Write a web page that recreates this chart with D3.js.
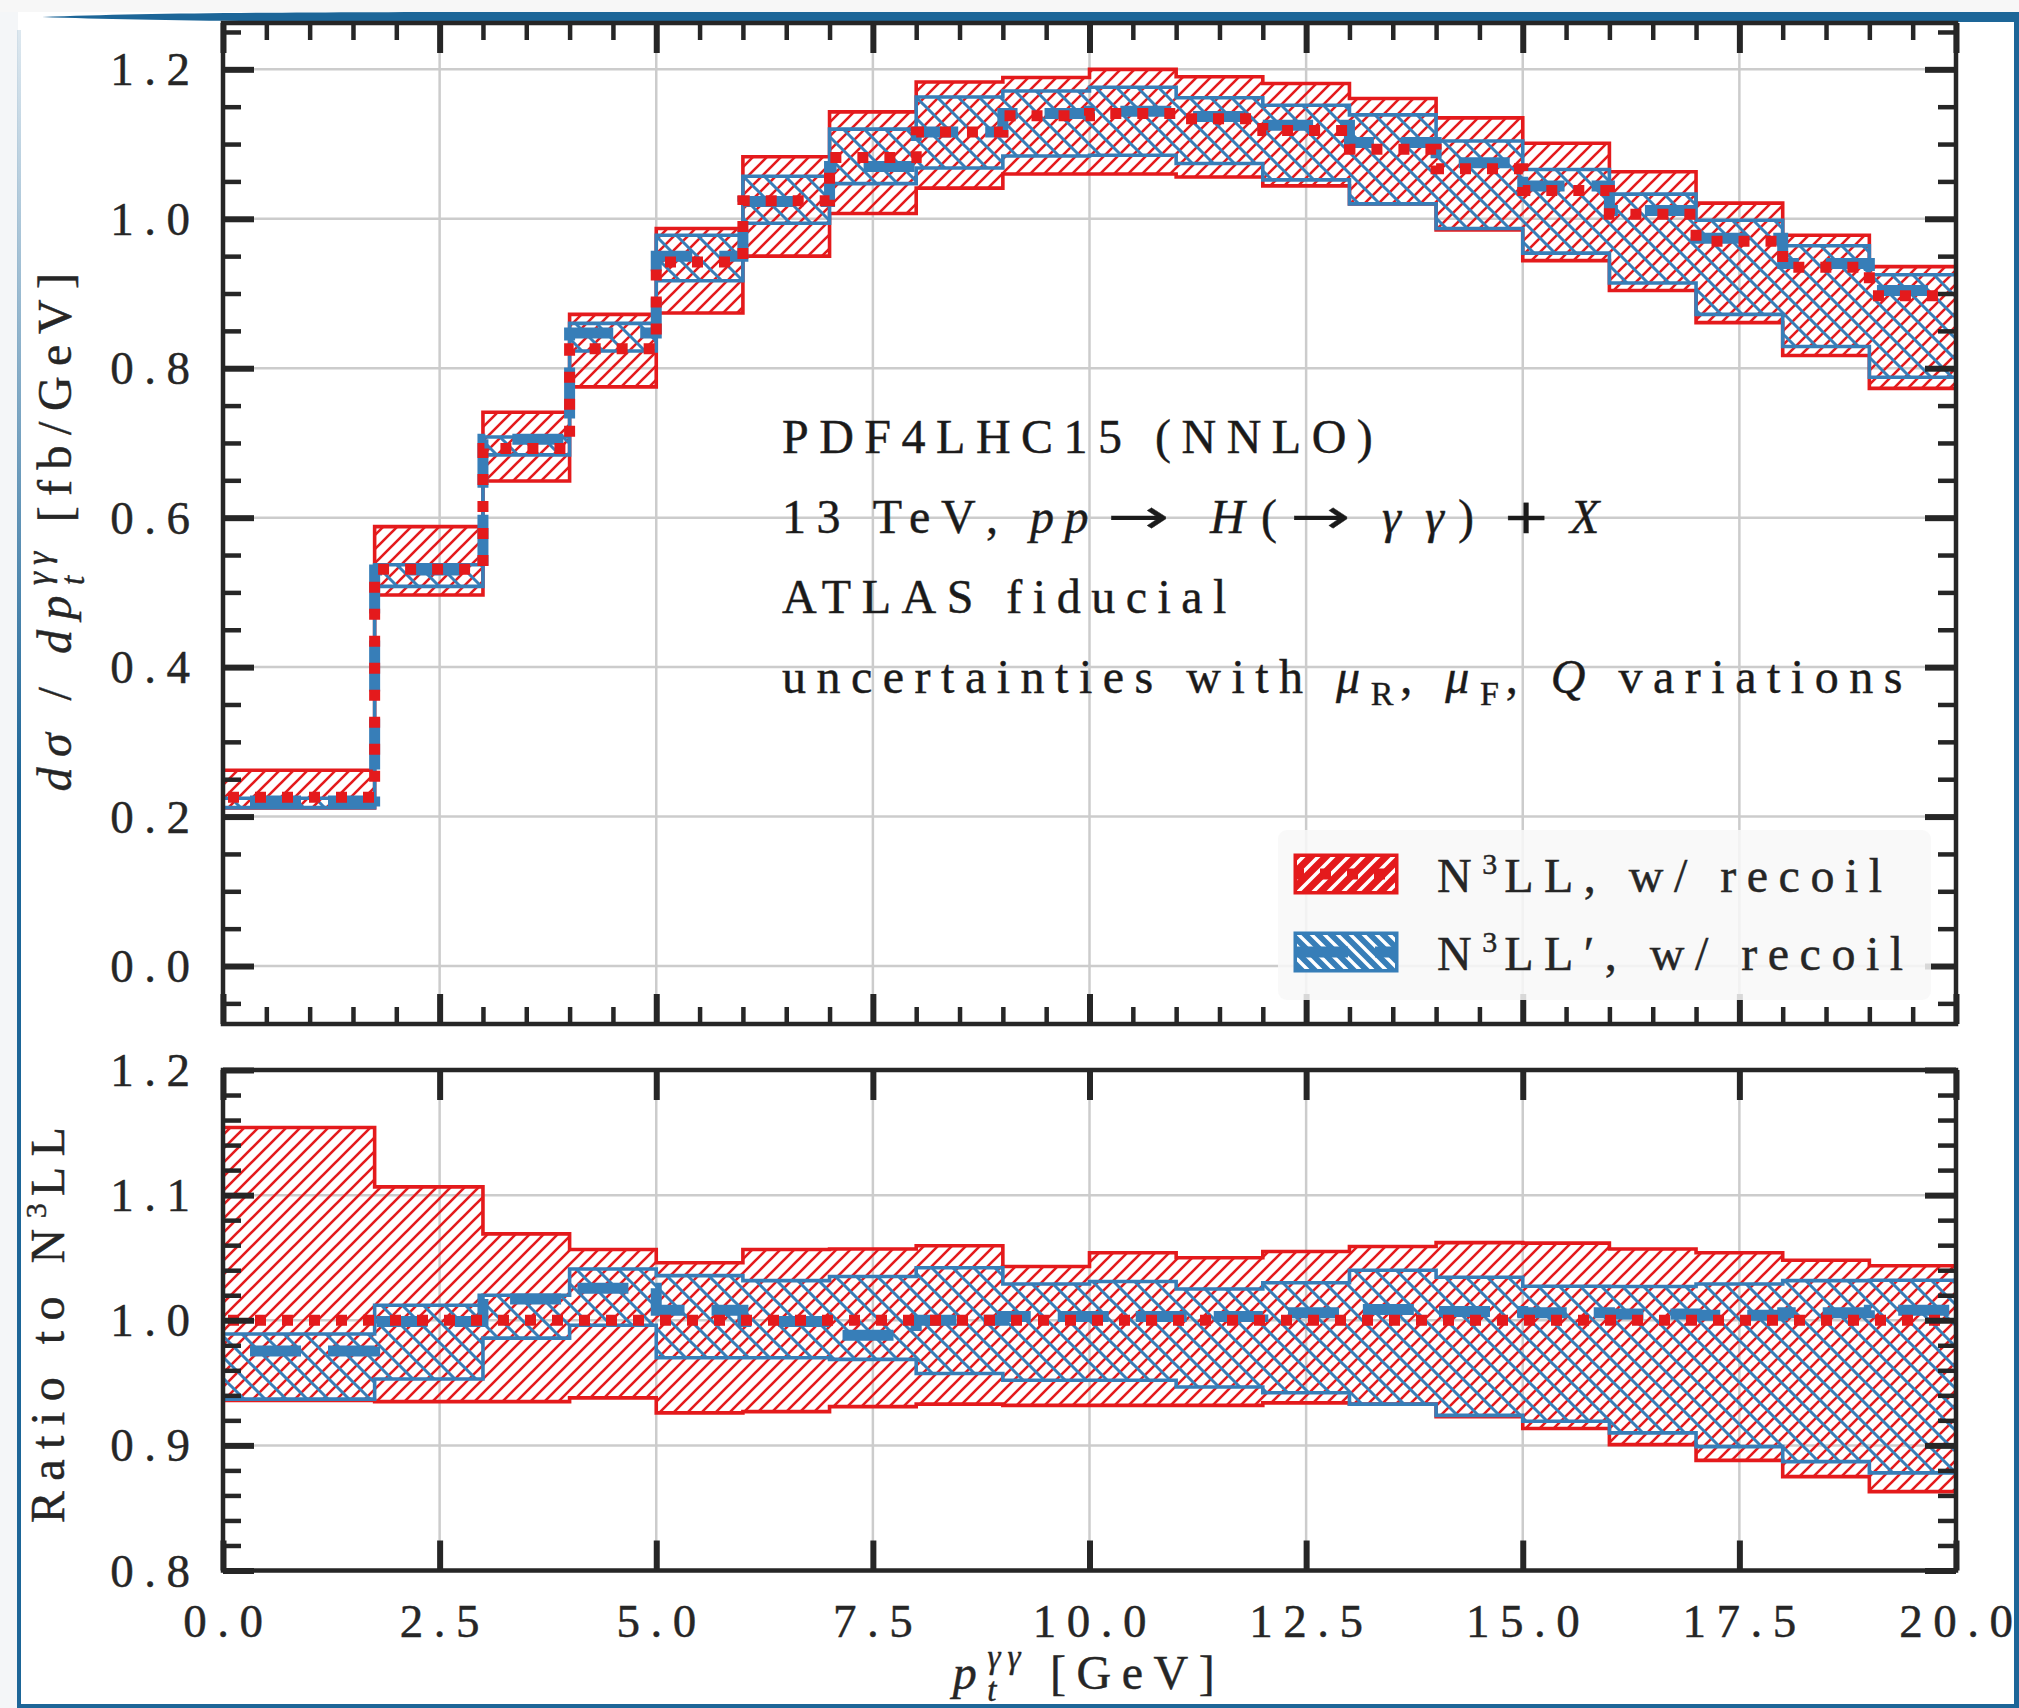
<!DOCTYPE html>
<html>
<head>
<meta charset="utf-8">
<script src="https://cdn.jsdelivr.net/npm/d3@7"></script>
<style>
body { margin: 0; background: #fff; }
text { font-family: "Liberation Serif", "DejaVu Serif", serif; fill: #262626; stroke: #262626; stroke-width: 0.45px; }
</style>
</head>
<body>
<svg id="chart"></svg>
<script>
// bin edges in GeV
const binEdges = [0, 1.75, 3, 4, 5, 6, 7, 8, 9, 10, 11, 12, 13, 14, 15, 16, 17, 18, 19, 20];

// top panel, d sigma / d pt [fb/GeV]
const n3llCentral  = [0.226, 0.531, 0.6925, 0.826, 0.942, 1.024, 1.082, 1.116, 1.138, 1.141, 1.134, 1.118, 1.093, 1.067, 1.038, 1.006, 0.970, 0.935, 0.897];
const n3llLow      = [0.2115, 0.4965, 0.649, 0.775, 0.874, 0.950, 1.007, 1.041, 1.060, 1.060, 1.056, 1.044, 1.020, 0.985, 0.944, 0.904, 0.861, 0.817, 0.773];
const n3llHigh     = [0.262, 0.588, 0.741, 0.872, 0.987, 1.083, 1.143, 1.183, 1.189, 1.200, 1.190, 1.181, 1.161, 1.135, 1.101, 1.063, 1.021, 0.978, 0.936];
const n3llpCentral = [0.221, 0.530, 0.705, 0.847, 0.950, 1.023, 1.070, 1.116, 1.141, 1.144, 1.137, 1.125, 1.102, 1.075, 1.044, 1.011, 0.974, 0.940, 0.904];
const n3llpLow     = [0.212, 0.508, 0.684, 0.823, 0.917, 0.994, 1.047, 1.068, 1.084, 1.085, 1.074, 1.052, 1.020, 0.987, 0.954, 0.914, 0.872, 0.829, 0.788];
const n3llpHigh    = [0.2245, 0.537, 0.708, 0.860, 0.978, 1.057, 1.120, 1.163, 1.171, 1.176, 1.162, 1.152, 1.139, 1.104, 1.066, 1.033, 0.998, 0.964, 0.925];

// bottom panel, ratio to N3LL
const ratioN3llCentral  = [1.0, 1.0, 1.0, 1.0, 1.0, 1.0, 1.0, 1.0, 1.0, 1.0, 1.0, 1.0, 1.0, 1.0, 1.0, 1.0, 1.0, 1.0, 1.0];
const ratioN3llLow      = [0.936, 0.935, 0.935, 0.938, 0.926, 0.927, 0.931, 0.933, 0.932, 0.932, 0.932, 0.934, 0.933, 0.923, 0.9135, 0.9006, 0.888, 0.875, 0.863];
const ratioN3llHigh     = [1.154, 1.1066, 1.069, 1.0565, 1.046, 1.0565, 1.057, 1.0596, 1.043, 1.054, 1.050, 1.055, 1.059, 1.062, 1.0616, 1.057, 1.054, 1.048, 1.0436];
const ratioN3llpCentral = [0.9755, 0.999, 1.017, 1.0255, 1.008, 0.999, 0.988, 1.0, 1.003, 1.003, 1.003, 1.006, 1.0085, 1.007, 1.006, 1.005, 1.004, 1.006, 1.008];
const ratioN3llpLow     = [0.937, 0.953, 0.9857, 0.996, 0.970, 0.970, 0.9687, 0.9574, 0.952, 0.952, 0.9466, 0.942, 0.933, 0.924, 0.9193, 0.910, 0.899, 0.887, 0.878];
const ratioN3llpHigh    = [0.989, 1.012, 1.020, 1.041, 1.0357, 1.0317, 1.035, 1.042, 1.029, 1.031, 1.025, 1.030, 1.040, 1.0344, 1.0272, 1.027, 1.029, 1.0317, 1.032];

// ticks
const xTicks = [0, 2.5, 5, 7.5, 10, 12.5, 15, 17.5, 20];
const xTickLabels = ["0.0", "2.5", "5.0", "7.5", "10.0", "12.5", "15.0", "17.5", "20.0"];
const topYTicks = [0, 0.2, 0.4, 0.6, 0.8, 1.0, 1.2];
const topYTickLabels = ["0.0", "0.2", "0.4", "0.6", "0.8", "1.0", "1.2"];
const ratioYTicks = [0.8, 0.9, 1.0, 1.1, 1.2];
const ratioYTickLabels = ["0.8", "0.9", "1.0", "1.1", "1.2"];

const legendLabels = ["LL, w/ recoil", "LL\u2032, w/ recoil"];

const red = "#e41a1c", blue = "#377eb8", ink = "#262626";
const W = 2019, H = 1708;
const FS = 47, TFS = 48, LS = 10.5; // tick font size, text font size, letter spacing

const svg = d3.select("#chart").attr("width", W).attr("height", H);
const defs = svg.append("defs");

// page frame bits around the figure
svg.append("rect").attr("x", 0).attr("y", 0).attr("width", 18).attr("height", H).attr("fill", "#f4f6f8");
svg.append("rect").attr("x", 0).attr("y", 0).attr("width", W).attr("height", 12).attr("fill", "#f7f7f7");
let grad = defs.append("linearGradient").attr("id", "leftFade").attr("x1", 0).attr("y1", 0).attr("x2", 0).attr("y2", 1);
grad.append("stop").attr("offset", "0").attr("stop-color", "#1d6698").attr("stop-opacity", 0.15);
grad.append("stop").attr("offset", "0.45").attr("stop-color", "#1d6698").attr("stop-opacity", 1);
svg.append("rect").attr("x", 17).attr("y", 30).attr("width", 4).attr("height", H - 30).attr("fill", "url(#leftFade)");
svg.append("path").attr("d", "M42,17 C150,13 300,12 520,12 L2019,12 L2019,22 L520,22 C300,22 150,21 42,17 Z").attr("fill", "#1d6698");
svg.append("rect").attr("x", 17).attr("y", 1704).attr("width", W - 17).attr("height", 4).attr("fill", "#1d6698");
svg.append("rect").attr("x", 2014).attr("y", 12).attr("width", 5).attr("height", H - 12).attr("fill", "#1d6698");

// hatch patterns
function hatch(id, color, step, width, dir) {
    const p = defs.append("pattern").attr("id", id)
        .attr("patternUnits", "userSpaceOnUse")
        .attr("width", step).attr("height", step);
    const s = step, w = width;
    const d = dir === "/"
        ? `M0,${s} L${s},0 M${-w},${w} L${w},${-w} M${s - w},${s + w} L${s + w},${s - w}`
        : `M0,0 L${s},${s} M${s - w},${-w} L${s + w},${w} M${-w},${s - w} L${w},${s + w}`;
    p.append("path").attr("d", d).attr("stroke", color).attr("stroke-width", width).attr("fill", "none");
}
hatch("hatchRed", red, 14, 2.6, "/");
hatch("hatchBlue", blue, 21, 3, "\\");
hatch("legRed", "#fff", 15, 3.6, "/");
hatch("legBlue", "#fff", 13, 3.4, "\\");

const x = d3.scaleLinear().domain([0, 20]).range([223, 1956]);
const yTop = d3.scaleLinear().domain([-0.0776, 1.262]).range([1024, 23]);
const yRatio = d3.scaleLinear().domain([0.8, 1.2]).range([1570.5, 1070]);

const panels = [
    { y: yTop, id: "top", yTicks: topYTicks, yLabels: topYTickLabels,
      yMinor: d3.range(-1, 26).filter(i => i % 4 !== 0).map(i => i * 0.05),
      xMinor: d3.range(0, 41).filter(i => i % 5 !== 0).map(i => i * 0.5),
      red: [n3llLow, n3llHigh, n3llCentral], blue: [n3llpLow, n3llpHigh, n3llpCentral] },
    { y: yRatio, id: "bot", yTicks: ratioYTicks, yLabels: ratioYTickLabels,
      yMinor: d3.range(40, 61).filter(i => i % 5 !== 0).map(i => i * 0.02),
      xMinor: [],
      red: [ratioN3llLow, ratioN3llHigh, ratioN3llCentral], blue: [ratioN3llpLow, ratioN3llpHigh, ratioN3llpCentral] }
];

// step points: one per bin start plus the closing edge
function stepPoints(lo, hi, c) {
    const pts = lo.map((d, i) => ({ x: binEdges[i], lo: lo[i], hi: hi[i], c: c[i] }));
    const n = lo.length - 1;
    pts.push({ x: binEdges[n + 1], lo: lo[n], hi: hi[n], c: c[n] });
    return pts;
}

// tracked text, but no trailing space after the last glyph
function tracked(sel, s) {
    if (s.length > 1) sel.append("tspan").text(s.slice(0, -1));
    sel.append("tspan").attr("letter-spacing", 0).text(s.slice(-1));
    return sel;
}

for (const p of panels) {
    const [y0, y1] = p.y.range();
    const g = svg.append("g");

    defs.append("clipPath").attr("id", "clip-" + p.id)
        .append("rect").attr("x", x(0)).attr("y", y1).attr("width", x(20) - x(0)).attr("height", y0 - y1);

    // grid
    g.append("g").selectAll("line").data(xTicks).join("line")
        .attr("x1", d => x(d)).attr("x2", d => x(d)).attr("y1", y1).attr("y2", y0)
        .attr("stroke", "#cccccc").attr("stroke-width", 2.5);
    g.append("g").selectAll("line").data(p.yTicks).join("line")
        .attr("x1", x(0)).attr("x2", x(20)).attr("y1", d => p.y(d)).attr("y2", d => p.y(d))
        .attr("stroke", "#cccccc").attr("stroke-width", 2.5);

    const data = g.append("g").attr("clip-path", `url(#clip-${p.id})`);
    const area = d3.area().curve(d3.curveStepAfter)
        .x(d => x(d.x)).y0(d => p.y(d.lo)).y1(d => p.y(d.hi));
    const line = d3.line().curve(d3.curveStepAfter)
        .x(d => x(d.x)).y(d => p.y(d.c));

    const rp = stepPoints(...p.red), bp = stepPoints(...p.blue);

    data.append("path").attr("d", area(rp))
        .attr("fill", "url(#hatchRed)").attr("stroke", red).attr("stroke-width", 3.6);
    data.append("path").attr("d", area(bp))
        .attr("fill", "url(#hatchBlue)").attr("stroke", blue).attr("stroke-width", 3.6);
    data.append("path").attr("d", line(bp))
        .attr("fill", "none").attr("stroke", blue).attr("stroke-width", 11)
        .attr("stroke-dasharray", "51,27").attr("stroke-dashoffset", 51);
    data.append("path").attr("d", line(rp))
        .attr("fill", "none").attr("stroke", red).attr("stroke-width", 11)
        .attr("stroke-dasharray", "11,16").attr("stroke-dashoffset", 22);

    // ticks, all pointing inward
    const tk = (axisFn, scale, pos, vals, size, width) => {
        const ag = svg.append("g").attr("transform", pos)
            .call(axisFn(scale).tickValues(vals).tickSize(-size).tickFormat(""));
        ag.select(".domain").remove();
        ag.selectAll("line").attr("stroke", ink).attr("stroke-width", width);
    };
    tk(d3.axisLeft, p.y, `translate(${x(0)},0)`, p.yTicks, 31, 6);
    tk(d3.axisLeft, p.y, `translate(${x(0)},0)`, p.yMinor, 18, 4.5);
    tk(d3.axisRight, p.y, `translate(${x(20)},0)`, p.yTicks, 31, 6);
    tk(d3.axisRight, p.y, `translate(${x(20)},0)`, p.yMinor, 18, 4.5);
    tk(d3.axisTop, x, `translate(0,${y1})`, xTicks, 30, 6);
    tk(d3.axisBottom, x, `translate(0,${y0})`, xTicks, 30, 6);
    if (p.xMinor.length) {
        tk(d3.axisTop, x, `translate(0,${y1})`, p.xMinor, 17, 4.5);
        tk(d3.axisBottom, x, `translate(0,${y0})`, p.xMinor, 17, 4.5);
    }

    // spines
    svg.append("rect").attr("x", x(0)).attr("y", y1).attr("width", x(20) - x(0)).attr("height", y0 - y1)
        .attr("fill", "none").attr("stroke", ink).attr("stroke-width", 4.5);

    // y tick labels
    svg.append("g").selectAll("text").data(p.yTicks).join("text")
        .attr("x", 190).attr("y", d => p.y(d) + 16)
        .attr("text-anchor", "end").attr("font-size", FS).attr("letter-spacing", LS)
        .each(function(d, i) { tracked(d3.select(this), p.yLabels[i]); });
}

// x tick labels under the ratio panel
svg.append("g").selectAll("text").data(xTicks).join("text")
    .attr("x", d => x(d)).attr("y", 1637)
    .attr("text-anchor", "middle").attr("font-size", FS).attr("letter-spacing", LS)
    .each(function(d, i) { tracked(d3.select(this), xTickLabels[i]); });

// text with italic parts, sub- and superscripts
function rich(sel, parts) {
    let cur = 0;
    for (const p of parts) {
        const shift = p.shift || 0;
        const t = sel.append("tspan").text(p.t).attr("dy", shift - cur);
        cur = shift;
        if (p.i) t.attr("font-style", "italic");
        if (p.size) t.attr("font-size", p.size).attr("letter-spacing", 7);
        if (p.dx) t.attr("dx", p.dx);
    }
    return sel;
}

// annotation
const noteBase = 453, noteStep = 80;
const note = [
    [{ t: "PDF4LHC15 (NNLO)" }],
    null,
    [{ t: "ATLAS fiducial" }],
    [{ t: "uncertainties with " }, { t: "\u03bc", i: 1 }, { t: "R", shift: 12, size: 34 }, { t: ", " }, { t: "\u03bc", i: 1 }, { t: "F", shift: 12, size: 34 }, { t: ", " }, { t: "Q", i: 1 }, { t: " variations" }]
];
note.forEach((parts, k) => {
    if (!parts) return;
    rich(svg.append("text").attr("x", 782).attr("y", noteBase + k * noteStep)
        .attr("font-size", TFS).attr("letter-spacing", LS).style("fill", "#1a1a1a"), parts);
});

// second line set piece by piece, math spacing is wide
const mathLine = [
    { t: "13 TeV,", x: 782 },
    { t: "pp", x: 1030, i: 1 },
    { t: "\u2192", x: 1107, k: 1.55 },
    { t: "H", x: 1210, i: 1 },
    { t: "(", x: 1261 },
    { t: "\u2192", x: 1290, k: 1.5 },
    { t: "\u03b3\u03b3", x: 1382, i: 1, ls: 24 },
    { t: ")", x: 1458 },
    { t: "+", x: 1502, k: 1.2 },
    { t: "X", x: 1570, i: 1 }
];
mathLine.forEach(m => {
    const t = svg.append("text").attr("font-size", TFS).style("fill", "#1a1a1a")
        .attr("transform", `translate(${m.x},${noteBase + noteStep})` + (m.k ? ` scale(${m.k},1)` : ""))
        .attr("letter-spacing", m.ls || LS);
    if (m.i) t.attr("font-style", "italic");
    if (m.k) t.style("font-family", "'DejaVu Sans'").style("stroke-width", "0.3px");
    tracked(t, m.t);
});

// axis labels
rich(svg.append("text").attr("transform", "translate(1089,1689)").attr("text-anchor", "middle")
    .attr("font-size", TFS).attr("letter-spacing", LS),
    [{ t: "p", i: 1 }, { t: "t", i: 1, shift: 12, size: 33 }, { t: "\u03b3\u03b3", i: 1, shift: -21, size: 33, dx: -16 }, { t: " [GeV]" }]);

rich(svg.append("text").attr("transform", "translate(71,527) rotate(-90)").attr("text-anchor", "middle")
    .attr("font-size", TFS).attr("letter-spacing", LS),
    [{ t: "d\u03c3", i: 1 }, { t: " / " }, { t: "dp", i: 1 }, { t: "t", i: 1, shift: 13, size: 33 }, { t: "\u03b3\u03b3", i: 1, shift: -21, size: 33, dx: -16 }, { t: " [fb/GeV]" }]);

rich(svg.append("text").attr("transform", "translate(64,1320) rotate(-90)").attr("text-anchor", "middle")
    .attr("font-size", TFS).attr("letter-spacing", LS),
    [{ t: "Ratio to N" }, { t: "3", shift: -18, size: 30 }, { t: "LL" }]);

// legend
const leg = svg.append("g");
leg.append("rect").attr("x", 1278).attr("y", 830).attr("width", 653).attr("height", 170).attr("rx", 9)
    .attr("fill", "#f8f8f8").attr("fill-opacity", 0.85);
const entries = [
    { color: red, pat: "legRed", dash: "11,16", off: 4, y: 855 },
    { color: blue, pat: "legBlue", dash: "51,27", off: 0, y: 933 }
];
entries.forEach((e, i) => {
    leg.append("rect").attr("x", 1295).attr("y", e.y).attr("width", 102).attr("height", 38).attr("fill", e.color);
    leg.append("rect").attr("x", 1297).attr("y", e.y + 2).attr("width", 98).attr("height", 34).attr("fill", `url(#${e.pat})`);
    leg.append("rect").attr("x", 1295).attr("y", e.y).attr("width", 102).attr("height", 38)
        .attr("fill", "none").attr("stroke", e.color).attr("stroke-width", 3);
    leg.append("line").attr("x1", 1297).attr("x2", 1395).attr("y1", e.y + 19).attr("y2", e.y + 19)
        .attr("stroke", e.color).attr("stroke-width", 11)
        .attr("stroke-dasharray", e.dash).attr("stroke-dashoffset", e.off);
    rich(leg.append("text").attr("x", 1437).attr("y", e.y + 37).attr("font-size", TFS).attr("letter-spacing", LS),
        [{ t: "N" }, { t: "3", shift: -18, size: 30 }, { t: legendLabels[i] }]);
});
</script>
</body>
</html>
